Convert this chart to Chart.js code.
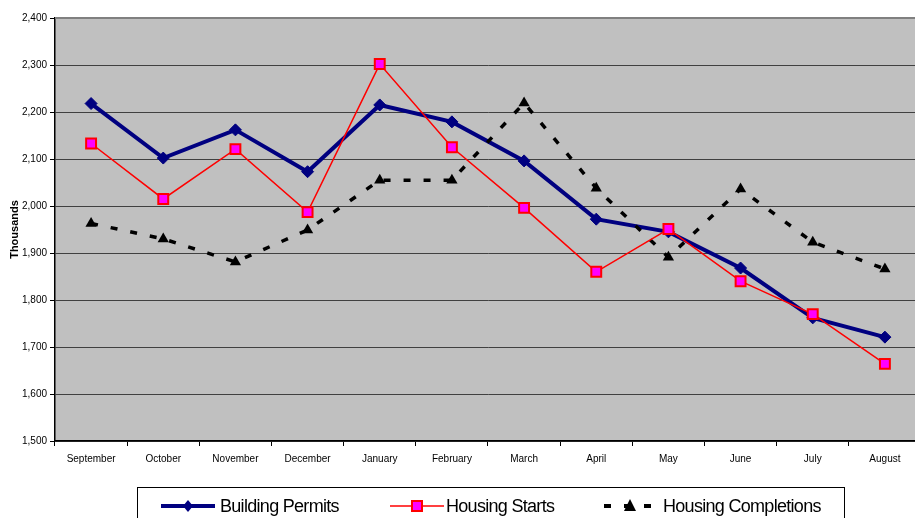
<!DOCTYPE html>
<html>
<head>
<meta charset="utf-8">
<script src="https://cdn.jsdelivr.net/npm/chart.js@4/dist/chart.umd.min.js"></script>
<style>
  html, body { margin: 0; padding: 0; background: #ffffff; overflow: hidden; }
  #wrap { position: relative; width: 915px; height: 518px; overflow: hidden; }
  #c { position: absolute; left: 0; top: 0; }
</style>
</head>
<body>
<div id="wrap"><canvas id="c" width="930" height="518"></canvas></div>
<script>
const months = ['September','October','November','December','January','February','March','April','May','June','July','August'];
const buildingPermits    = [2218, 2102, 2162, 2073, 2215, 2179, 2096, 1972, 1945, 1868, 1762, 1721];
const housingStarts      = [2133, 2015, 2121, 1987, 2302, 2125, 1996, 1860, 1951, 1840, 1770, 1664];
const housingCompletions = [1963, 1930, 1881, 1949, 2055, 2055, 2219, 2038, 1891, 2036, 1923, 1866];
const seriesNames = ['Building Permits', 'Housing Starts', 'Housing Completions'];
const yMin = 1500, yMax = 2400, yStep = 100;
const yTitle = 'Thousands';

const FONT = '"Liberation Sans", Arial, sans-serif';

const plotBg = {
  id: 'plotBg',
  beforeDraw(chart) {
    const {ctx, chartArea: a} = chart;
    ctx.save();
    ctx.fillStyle = '#c0c0c0';
    ctx.fillRect(a.left, a.top, a.right - a.left, a.bottom - a.top);
    ctx.restore();
  },
  afterDatasetsDraw(chart) {
    const {ctx, chartArea: a} = chart;
    ctx.save();
    ctx.strokeStyle = '#808080';
    ctx.lineWidth = 2;
    ctx.beginPath();
    ctx.moveTo(a.left, a.top);
    ctx.lineTo(a.right, a.top);
    ctx.stroke();
    ctx.restore();
  }
};

const legendBox = {
  id: 'legendBox',
  afterDraw(chart) {
    const ctx = chart.ctx;
    const y = 506;
    ctx.save();
    ctx.strokeStyle = '#000000';
    ctx.lineWidth = 1;
    ctx.strokeRect(137.5, 487.5, 707, 45);

    // Building Permits sample
    ctx.strokeStyle = '#000080';
    ctx.lineWidth = 4;
    ctx.beginPath(); ctx.moveTo(161, y); ctx.lineTo(215, y); ctx.stroke();
    ctx.fillStyle = '#000080';
    ctx.beginPath();
    ctx.moveTo(188, y - 6); ctx.lineTo(193, y); ctx.lineTo(188, y + 6); ctx.lineTo(183, y);
    ctx.closePath(); ctx.fill();

    // Housing Starts sample
    ctx.strokeStyle = '#ff0000';
    ctx.lineWidth = 1.5;
    ctx.beginPath(); ctx.moveTo(390, y); ctx.lineTo(444, y); ctx.stroke();
    ctx.fillStyle = '#ff00ff';
    ctx.lineWidth = 2;
    ctx.fillRect(412, y - 5, 10, 10);
    ctx.strokeRect(412, y - 5, 10, 10);

    // Housing Completions sample
    ctx.strokeStyle = '#000000';
    ctx.lineWidth = 4;
    ctx.setLineDash([7, 13]);
    ctx.beginPath(); ctx.moveTo(604, y); ctx.lineTo(656, y); ctx.stroke();
    ctx.setLineDash([]);
    ctx.fillStyle = '#000000';
    ctx.beginPath();
    ctx.moveTo(630, y - 7); ctx.lineTo(636, y + 5); ctx.lineTo(624, y + 5);
    ctx.closePath(); ctx.fill();

    // Labels
    ctx.fillStyle = '#000000';
    ctx.font = '18px ' + FONT;
    ctx.textBaseline = 'middle';
    ctx.textAlign = 'left';
    try { ctx.letterSpacing = '-0.7px'; } catch (e) {}
    ctx.fillText(seriesNames[0], 220, y + 1);
    ctx.fillText(seriesNames[1], 446, y + 1);
    ctx.fillText(seriesNames[2], 663, y + 1);
    ctx.restore();
  }
};

new Chart(document.getElementById('c'), {
  type: 'line',
  data: {
    labels: months,
    datasets: [
      {
        label: seriesNames[0],
        data: buildingPermits,
        borderColor: '#000080',
        backgroundColor: '#000080',
        borderWidth: 4,
        pointStyle: 'rectRot',
        pointRadius: 6,
        pointBorderWidth: 1,
        pointBorderColor: '#000080',
        pointBackgroundColor: '#000080',
        tension: 0,
        order: 3
      },
      {
        label: seriesNames[2],
        data: housingCompletions,
        borderColor: '#000000',
        backgroundColor: '#000000',
        borderWidth: 3.5,
        borderDash: [7, 13],
        pointStyle: 'triangle',
        pointRadius: 6.5,
        pointBorderWidth: 0,
        pointBackgroundColor: '#000000',
        tension: 0,
        order: 2
      },
      {
        label: seriesNames[1],
        data: housingStarts,
        borderColor: '#ff0000',
        backgroundColor: '#ff00ff',
        borderWidth: 1.5,
        pointStyle: 'rect',
        pointRadius: 7,
        pointBorderWidth: 2,
        pointBorderColor: '#ff0000',
        pointBackgroundColor: '#ff00ff',
        tension: 0,
        order: 1
      }
    ]
  },
  options: {
    responsive: false,
    devicePixelRatio: 1,
    animation: false,
    layout: { padding: { left: 0, right: 5, top: 18, bottom: 0 } },
    plugins: {
      legend: { display: false },
      tooltip: { enabled: false },
      title: { display: false }
    },
    scales: {
      x: {
        type: 'category',
        offset: true,
        grid: {
          offset: true,
          drawOnChartArea: false,
          drawTicks: true,
          tickLength: 5,
          tickColor: '#000000',
          color: '#000000'
        },
        border: { color: '#000000', width: 1.5 },
        ticks: {
          color: '#000000',
          font: { family: FONT, size: 10 },
          padding: 7,
          maxRotation: 0,
          autoSkip: false
        },
        afterFit(scale) { scale.height = 77; }
      },
      y: {
        min: yMin,
        max: yMax,
        grid: {
          color: '#404040',
          lineWidth: 1,
          drawTicks: true,
          tickLength: 5,
          tickColor: '#000000'
        },
        border: { color: '#000000', width: 1.5 },
        ticks: {
          stepSize: yStep,
          color: '#000000',
          font: { family: FONT, size: 10 },
          padding: 3,
          callback: (v) => Number(v).toLocaleString('en-US')
        },
        title: {
          display: true,
          text: yTitle,
          color: '#000000',
          font: { family: FONT, size: 11, weight: 'bold' },
          padding: { top: 8, bottom: 0 }
        },
        afterFit(scale) { scale.width = 55; }
      }
    }
  },
  plugins: [plotBg, legendBox]
});
</script>
</body>
</html>
